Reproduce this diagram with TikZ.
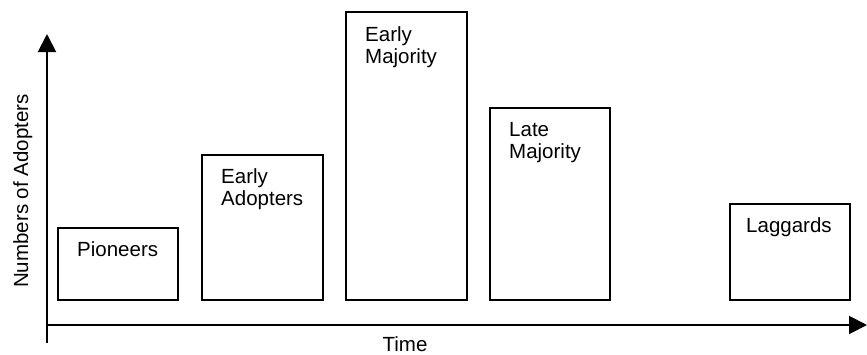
\documentclass[tikz,border=0pt]{standalone}
\usepackage{fontspec}
\setmainfont{Liberation Sans}
\usetikzlibrary{arrows.meta}
\begin{document}
\begin{tikzpicture}[x=1pt,y=-1pt,
  axis/.style={line width=2pt,-{Triangle[length=18pt,width=18pt]}},
  bar/.style={draw,line width=1.6pt,rectangle,inner sep=0pt,anchor=north west},
  lbl/.style={inner sep=0pt,anchor=north west,align=left,font=\fontsize{20.5}{22}\selectfont},
  axlbl/.style={inner sep=0pt,font=\fontsize{20.5}{22}\selectfont}]
\useasboundingbox (0,0) rectangle (867,354);
% axes
\coordinate (ybot) at (47,343);
\coordinate (ytop) at (47,34);
\coordinate (xstart) at (46,325);
\coordinate (xend) at (867,325);
\draw[axis] (ybot) -- (ytop);
\draw[axis] (xstart) -- (xend);
% bars
\node[bar,minimum width=120pt,minimum height=72pt] (pio) at (57,227) {};
\node[bar,minimum width=121pt,minimum height=145pt] (ead) at (201,154) {};
\node[bar,minimum width=121pt,minimum height=288pt] (ema) at (345,11) {};
\node[bar,minimum width=120pt,minimum height=192pt] (lma) at (489,107) {};
\node[bar,minimum width=120pt,minimum height=96pt] (lag) at (729,203) {};
% labels
\node[lbl] (piol) at ([xshift=20pt,yshift=-14.3pt]pio.north west) {Pioneers};
\node[lbl] (eadl) at ([xshift=20pt,yshift=-14.3pt]ead.north west) {Early\\Adopters};
\node[lbl] (emal) at ([xshift=20pt,yshift=-15pt]ema.north west) {Early\\Majority};
\node[lbl] (lmal) at ([xshift=20pt,yshift=-15pt]lma.north west) {Late\\Majority};
\node[lbl] (lagl) at ([xshift=17pt,yshift=-14.3pt]lag.north west) {Laggards};
% axis labels
\node[axlbl,anchor=base] (time) at (405,351) {Time};
\node[axlbl,anchor=base,rotate=90] (num) at (28,191) {Numbers of Adopters};
\end{tikzpicture}
\end{document}
